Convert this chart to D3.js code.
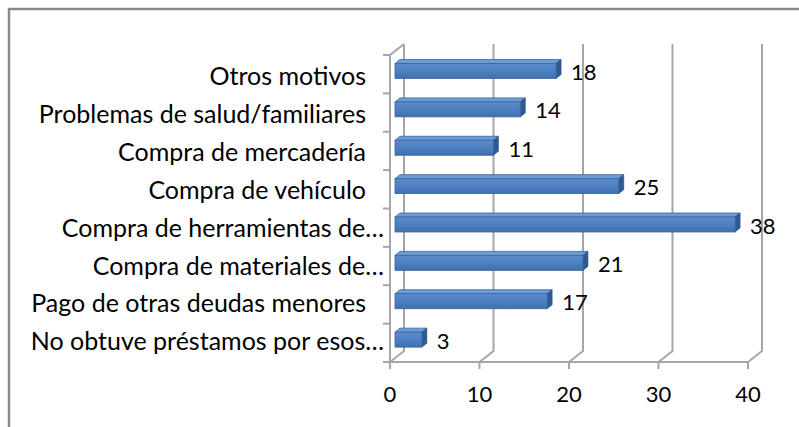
<!DOCTYPE html>
<html>
<head>
<meta charset="utf-8">
<script src="https://cdn.jsdelivr.net/npm/d3@7"></script>
<style>
  body { margin: 0; background: #fff; }
  text { font-family: Lato, "Liberation Sans", Arial, sans-serif; fill: #000; }
</style>
</head>
<body>
<div id="chart"></div>
<script>
// categories listed top to bottom as they appear
const categories = [
    "Otros motivos",
    "Problemas de salud/familiares",
    "Compra de mercadería",
    "Compra de vehículo",
    "Compra de herramientas de…",
    "Compra de materiales de…",
    "Pago de otras deudas menores",
    "No obtuve préstamos por esos…"
];
const values = [18, 14, 11, 25, 38, 21, 17, 3];
const xTicks = [0, 10, 20, 30, 40];

const width = 799, height = 427;
const depthX = 14, depthY = -11;   // back wall offset
const barDX = 5, barDY = -4;       // bar depth
const gridColor = "#a6a6a6";

const svg = d3.select("#chart").append("svg")
    .attr("width", width)
    .attr("height", height);

// outer frame (cut off at right/bottom like the original)
svg.append("path")
    .attr("d", "M9,430 L9,9 L805,9")
    .attr("fill", "none")
    .attr("stroke", "#8a8a8a")
    .attr("stroke-width", 2.5);

const x = d3.scaleLinear().domain([0, 40]).range([390, 748]);
const y = d3.scaleBand().domain(categories).range([55, 362]).padding(0);

const floorY = 362, topY = 55;

// back wall gridlines + floor diagonals
const grid = svg.append("g")
    .attr("fill", "none")
    .attr("stroke", gridColor)
    .attr("stroke-width", 2);

grid.selectAll(".gridline")
    .data(xTicks)
    .enter().append("path")
    .attr("class", "gridline")
    .attr("d", d => `M${x(d) + depthX},${topY + depthY} L${x(d) + depthX},${floorY + depthY} L${x(d)},${floorY}`);

// left wall front edge + top diagonal
grid.append("path")
    .attr("d", `M${x(0) + depthX},${topY + depthY} L${x(0)},${topY} L${x(0)},${floorY}`);

// floor front edge
grid.append("path")
    .attr("d", `M${x(0)},${floorY} L${x(40)},${floorY}`);

// x ticks
grid.selectAll(".xtick")
    .data(xTicks)
    .enter().append("path")
    .attr("class", "xtick")
    .attr("d", d => `M${x(d)},${floorY} L${x(d)},${floorY + 7}`);

// category ticks at band edges
const edges = categories.map(c => y(c)).concat([floorY]);
grid.selectAll(".ytick")
    .data(edges)
    .enter().append("path")
    .attr("class", "ytick")
    .attr("d", d => `M${x(0) - 7},${d} L${x(0)},${d}`);

// gradient for bar fronts
const defs = svg.append("defs");
const grad = defs.append("linearGradient")
    .attr("id", "barFront")
    .attr("x1", 0).attr("y1", 0).attr("x2", 0).attr("y2", 1);
grad.append("stop").attr("offset", "0%").attr("stop-color", "#5a8cce");
grad.append("stop").attr("offset", "60%").attr("stop-color", "#4a7dbd");
grad.append("stop").attr("offset", "100%").attr("stop-color", "#3f6fad");

const barH = 15;
const barOff = 8.5;
const data = categories.map((c, i) => ({ cat: c, value: values[i] }));

const bars = svg.selectAll(".bar")
    .data(data)
    .enter().append("g")
    .attr("class", "bar");

// top face
bars.append("path")
    .attr("d", d => {
        const x0 = x(0) + barDX, x1 = x(d.value) + barDX, yt = y(d.cat) + barOff;
        return `M${x0},${yt} L${x0 + barDX},${yt + barDY} L${x1 + barDX},${yt + barDY} L${x1},${yt} Z`;
    })
    .attr("fill", "#6e9bd6")
    .attr("stroke", "#3a659c")
    .attr("stroke-width", 0.8)
    .attr("stroke-linejoin", "round");

// end face
bars.append("path")
    .attr("d", d => {
        const x1 = x(d.value) + barDX, yt = y(d.cat) + barOff;
        return `M${x1},${yt} L${x1 + barDX},${yt + barDY} L${x1 + barDX},${yt + barDY + barH} L${x1},${yt + barH} Z`;
    })
    .attr("fill", "#2d5a92")
    .attr("stroke", "#2a5288")
    .attr("stroke-width", 0.6);

// front face
bars.append("rect")
    .attr("x", x(0) + barDX)
    .attr("y", d => y(d.cat) + barOff)
    .attr("width", d => x(d.value) - x(0))
    .attr("height", barH)
    .attr("fill", "url(#barFront)")
    .attr("stroke", "#3a679f")
    .attr("stroke-width", 0.8);

// value labels
svg.selectAll(".val")
    .data(data)
    .enter().append("text")
    .attr("class", "val")
    .attr("x", d => x(d.value) + 20)
    .attr("y", d => y(d.cat) + 25)
    .style("font-size", "22px")
    .text(d => d.value);

// category labels
svg.selectAll(".cat")
    .data(categories)
    .enter().append("text")
    .attr("class", "cat")
    .attr("x", d => d.endsWith("…") ? 384 : 366)
    .attr("y", (d, i) => y(d) + y.bandwidth() / 2 + 11 - i * 0.5)
    .attr("text-anchor", "end")
    .style("font-size", "25px")
    .text(d => d);

// x tick labels
svg.selectAll(".xlab")
    .data(xTicks)
    .enter().append("text")
    .attr("class", "xlab")
    .attr("x", d => x(d))
    .attr("y", 402)
    .attr("text-anchor", "middle")
    .style("font-size", "22px")
    .text(d => d);
</script>
</body>
</html>
